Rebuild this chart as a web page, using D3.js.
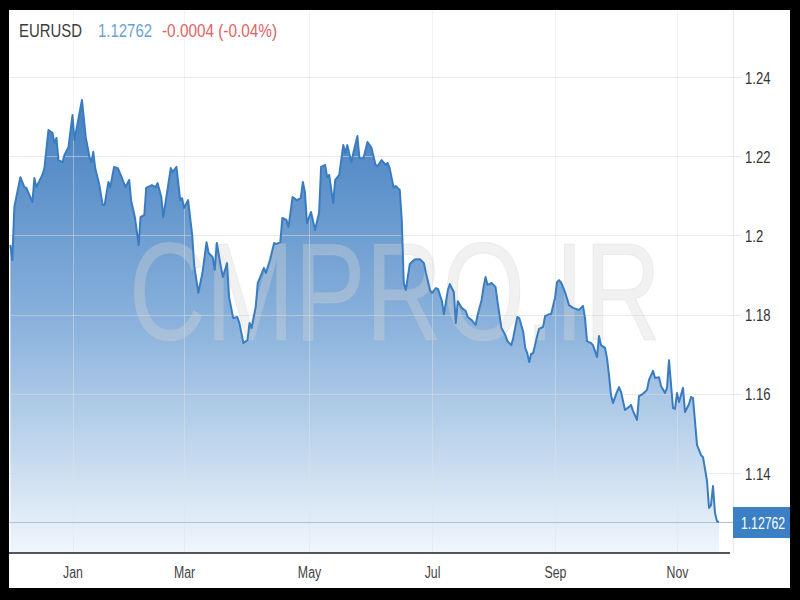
<!DOCTYPE html>
<html><head><meta charset="utf-8">
<script src="https://cdn.jsdelivr.net/npm/d3@7"></script>
<style>html,body{margin:0;padding:0;background:#000;} svg{display:block}</style>
</head><body>
<svg id="chart" width="800" height="600"></svg>
<script>
// ---------------- data ----------------
const symbol = "EURUSD";
const lastPriceLabel = "1.12762";
const lastPrice = 1.12762;
const changeLabel = "-0.0004 (-0.04%)";
const watermark = "CMPRO.IR";

const dates = [
"2020-12-01","2020-12-02","2020-12-03","2020-12-06","2020-12-08","2020-12-09","2020-12-12","2020-12-13","2020-12-14","2020-12-17",
"2020-12-18","2020-12-20","2020-12-22","2020-12-23","2020-12-24","2020-12-25","2020-12-27","2020-12-28","2020-12-30","2021-01-01",
"2021-01-02","2021-01-03","2021-01-06","2021-01-08","2021-01-10","2021-01-11","2021-01-12","2021-01-13","2021-01-15","2021-01-17",
"2021-01-18","2021-01-20","2021-01-21","2021-01-23","2021-01-25","2021-01-27","2021-01-29","2021-01-31","2021-02-01","2021-02-03",
"2021-02-05","2021-02-06","2021-02-08","2021-02-09","2021-02-12","2021-02-14","2021-02-15","2021-02-17","2021-02-18","2021-02-20",
"2021-02-22","2021-02-23","2021-02-25","2021-02-27","2021-02-28","2021-03-01","2021-03-03","2021-03-05","2021-03-06","2021-03-08",
"2021-03-10","2021-03-12","2021-03-13","2021-03-15","2021-03-16","2021-03-17","2021-03-19","2021-03-20","2021-03-22","2021-03-23",
"2021-03-25","2021-03-27","2021-03-28","2021-03-29","2021-03-30","2021-04-01","2021-04-02","2021-04-03","2021-04-05","2021-04-06",
"2021-04-08","2021-04-09","2021-04-10","2021-04-12","2021-04-14","2021-04-15","2021-04-17","2021-04-18","2021-04-20","2021-04-21",
"2021-04-23","2021-04-25","2021-04-27","2021-04-28","2021-04-29","2021-04-30","2021-05-02","2021-05-04","2021-05-06","2021-05-07",
"2021-05-09","2021-05-10","2021-05-11","2021-05-13","2021-05-14","2021-05-16","2021-05-18","2021-05-19","2021-05-20","2021-05-22",
"2021-05-23","2021-05-25","2021-05-26","2021-05-28","2021-05-30","2021-06-01","2021-06-03","2021-06-04","2021-06-06","2021-06-08",
"2021-06-09","2021-06-10","2021-06-12","2021-06-13","2021-06-15","2021-06-16","2021-06-17","2021-06-18","2021-06-20","2021-06-22",
"2021-06-23","2021-06-25","2021-06-27","2021-06-28","2021-06-30","2021-07-01","2021-07-03","2021-07-04","2021-07-06","2021-07-07",
"2021-07-09","2021-07-10","2021-07-12","2021-07-13","2021-07-14","2021-07-16","2021-07-18","2021-07-19","2021-07-21","2021-07-23",
"2021-07-24","2021-07-26","2021-07-27","2021-07-28","2021-07-29","2021-07-31","2021-08-02","2021-08-03","2021-08-05","2021-08-07",
"2021-08-08","2021-08-10","2021-08-11","2021-08-13","2021-08-14","2021-08-16","2021-08-17","2021-08-18","2021-08-19","2021-08-20",
"2021-08-21","2021-08-23","2021-08-24","2021-08-26","2021-08-27","2021-08-29","2021-08-30","2021-09-01","2021-09-02","2021-09-03",
"2021-09-04","2021-09-06","2021-09-08","2021-09-10","2021-09-13","2021-09-15","2021-09-16","2021-09-17","2021-09-19","2021-09-20",
"2021-09-22","2021-09-23","2021-09-24","2021-09-26","2021-09-27","2021-09-28","2021-09-29","2021-09-30","2021-10-02","2021-10-03",
"2021-10-04","2021-10-06","2021-10-08","2021-10-09","2021-10-10","2021-10-12","2021-10-13","2021-10-15","2021-10-17","2021-10-18",
"2021-10-20","2021-10-21","2021-10-23","2021-10-24","2021-10-26","2021-10-27","2021-10-28","2021-10-30","2021-10-31","2021-11-01",
"2021-11-02","2021-11-04","2021-11-05","2021-11-07","2021-11-08","2021-11-09","2021-11-11","2021-11-13","2021-11-14","2021-11-16",
"2021-11-17","2021-11-18","2021-11-19","2021-11-20","2021-11-21","2021-11-22"
];

const values = [
1.1976,1.1938,1.2072,1.2147,1.2122,1.2120,1.2084,1.2145,1.2122,1.2153,
1.2170,1.2266,1.2259,1.2233,1.2246,1.2190,1.2185,1.2203,1.2223,1.2304,
1.2241,1.2266,1.2342,1.2248,1.2198,1.2185,1.2211,1.2170,1.2132,1.2077,
1.2077,1.2135,1.2122,1.2173,1.2170,1.2147,1.2122,1.2140,1.2089,1.2046,
1.1976,1.2046,1.2052,1.2120,1.2127,1.2122,1.2132,1.2097,1.2046,1.2107,
1.2170,1.2160,1.2173,1.2089,1.2094,1.2069,1.2089,1.2001,1.1923,1.1855,
1.1905,1.1983,1.1956,1.1945,1.1913,1.1981,1.1920,1.1895,1.1930,1.1844,
1.1791,1.1794,1.1779,1.1754,1.1728,1.1736,1.1779,1.1766,1.1819,1.1880,
1.1905,1.1918,1.1905,1.1938,1.1981,1.1978,1.1983,1.2044,1.2039,1.2021,
1.2097,1.2089,1.2094,1.2135,1.2110,1.2031,1.2059,1.2014,1.2057,1.2173,
1.2178,1.2147,1.2153,1.2082,1.2140,1.2153,1.2228,1.2208,1.2228,1.2185,
1.2208,1.2251,1.2195,1.2195,1.2236,1.2221,1.2178,1.2175,1.2190,1.2178,
1.2183,1.2170,1.2120,1.2125,1.2115,1.2039,1.1880,1.1862,1.1928,1.1938,
1.1940,1.1940,1.1930,1.1905,1.1862,1.1855,1.1867,1.1865,1.1834,1.1801,
1.1862,1.1877,1.1857,1.1779,1.1834,1.1817,1.1809,1.1794,1.1786,1.1774,
1.1799,1.1837,1.1870,1.1895,1.1875,1.1880,1.1870,1.1834,1.1766,1.1748,
1.1733,1.1723,1.1743,1.1794,1.1791,1.1756,1.1716,1.1703,1.1680,1.1701,
1.1703,1.1746,1.1764,1.1769,1.1796,1.1801,1.1801,1.1842,1.1882,1.1887,
1.1882,1.1857,1.1824,1.1817,1.1812,1.1822,1.1791,1.1733,1.1728,1.1723,
1.1693,1.1746,1.1723,1.1716,1.1690,1.1647,1.1597,1.1577,1.1605,1.1617,
1.1605,1.1559,1.1567,1.1572,1.1557,1.1534,1.1594,1.1600,1.1610,1.1635,
1.1658,1.1640,1.1642,1.1620,1.1602,1.1615,1.1685,1.1564,1.1562,1.1602,
1.1579,1.1615,1.1554,1.1574,1.1592,1.1589,1.1471,1.1445,1.1440,1.1380,
1.1312,1.1319,1.1367,1.1299,1.1278,1.12762
];

const monthTicks = ["2021-01-01","2021-03-01","2021-05-01","2021-07-01","2021-09-01","2021-11-01"];
const monthLabels = ["Jan","Mar","May","Jul","Sep","Nov"];
const yTicks = [1.14, 1.16, 1.18, 1.2, 1.22, 1.24];
const yTickLabels = ["1.14","1.16","1.18","1.2","1.22","1.24"];

// ---------------- layout ----------------
const W = 800, H = 600;
const frame = {x0: 9, y0: 10, x1: 790, y1: 588};
const plot = {left: 9, right: 733, top: 10, bottom: 553};
const FONT = "'Liberation Sans', Arial, Helvetica, sans-serif";

const parse = d3.timeParse("%Y-%m-%d");
const data = dates.map((d, i) => ({date: parse(d), value: values[i]}));
const tickDates = monthTicks.map(parse);

// time axis compresses like a trading-day axis: piecewise time scale anchored on month ticks
const startDate = new Date(2020, 10, 30, 8);
const endDate = new Date(2021, 10, 29);
const x = d3.scaleTime()
  .domain([startDate, ...tickDates, endDate])
  .range([plot.left, 72.5, 184, 309, 432, 555, 677, plot.right]);
const y = d3.scaleLinear().domain([1.14, 1.24]).range([473, 77]);

const svg = d3.select("#chart");

// black surround + white chart card
svg.append("rect").attr("width", W).attr("height", H).attr("fill", "#000");
svg.append("rect").attr("x", frame.x0).attr("y", frame.y0)
  .attr("width", frame.x1 - frame.x0).attr("height", frame.y1 - frame.y0).attr("fill", "#fff");

// gradient
const defs = svg.append("defs");
const grad = defs.append("linearGradient").attr("id", "areaGrad")
  .attr("gradientUnits", "userSpaceOnUse").attr("x1", 0).attr("y1", 95).attr("x2", 0).attr("y2", plot.bottom);
grad.append("stop").attr("offset", 0).attr("stop-color", "rgb(66,126,192)");
grad.append("stop").attr("offset", 0.5).attr("stop-color", "rgb(138,178,220)");
grad.append("stop").attr("offset", 1).attr("stop-color", "rgb(240,246,252)");

// area
const area = d3.area().x(d => x(d.date)).y0(plot.bottom).y1(d => y(d.value));
svg.append("path").datum(data).attr("d", area).attr("fill", "url(#areaGrad)");

// grid (over area, semi-transparent)
const grid = svg.append("g");
grid.selectAll("line.h").data(yTicks).join("line").attr("class", "h")
  .attr("x1", plot.left).attr("x2", 741)
  .attr("y1", d => Math.round(y(d)) + 0.5).attr("y2", d => Math.round(y(d)) + 0.5)
  .attr("stroke", "#d8d8d8").attr("stroke-opacity", 0.55).attr("stroke-width", 1);
grid.selectAll("line.v").data(tickDates).join("line").attr("class", "v")
  .attr("x1", d => Math.round(x(d)) + 0.5).attr("x2", d => Math.round(x(d)) + 0.5)
  .attr("y1", plot.top).attr("y2", plot.bottom)
  .attr("stroke", "#e2e2e2").attr("stroke-opacity", 0.45).attr("stroke-width", 1);
grid.append("line").attr("x1", plot.right + 0.5).attr("x2", plot.right + 0.5)
  .attr("y1", plot.top).attr("y2", plot.bottom)
  .attr("stroke", "#e6e6e6").attr("stroke-width", 1);

// watermark (horizontally condensed via transform)
svg.append("text").text(watermark)
  .attr("transform", "translate(395,340) scale(0.76,1)")
  .attr("x", 0).attr("y", 0).attr("text-anchor", "middle")
  .attr("font-family", FONT).attr("font-size", 140)
  .attr("fill", "rgb(215,215,215)").attr("fill-opacity", 0.35)
  .attr("stroke", "rgb(200,200,200)").attr("stroke-opacity", 0.25).attr("stroke-width", 1);

// current price line
svg.append("line").attr("x1", plot.left).attr("x2", plot.right)
  .attr("y1", Math.round(y(lastPrice)) + 0.5).attr("y2", Math.round(y(lastPrice)) + 0.5)
  .attr("stroke", "#a9c3dd").attr("stroke-width", 1);

// price line
const line = d3.line().x(d => x(d.date)).y(d => y(d.value));
svg.append("path").datum(data).attr("d", line)
  .attr("fill", "none").attr("stroke", "#3a7cc0").attr("stroke-width", 2)
  .attr("stroke-linejoin", "round");

// x-axis baseline
svg.append("line").attr("x1", plot.left).attr("x2", 730)
  .attr("y1", plot.bottom).attr("y2", plot.bottom)
  .attr("stroke", "#555").attr("stroke-width", 2);

function squeeze(sel, k) {
  sel.each(function () {
    const w = this.getComputedTextLength();
    this.setAttribute("textLength", (w * k).toFixed(1));
    this.setAttribute("lengthAdjust", "spacingAndGlyphs");
  });
}

// x labels
const xAxis = d3.axisBottom(x).tickValues(tickDates)
  .tickFormat((d, i) => monthLabels[i]).tickSize(0).tickPadding(0);
const gx = svg.append("g").attr("transform", `translate(0,${plot.bottom})`).call(xAxis);
gx.select(".domain").remove();
gx.selectAll("text").attr("dy", null).attr("y", 25)
  .attr("font-family", FONT).attr("font-size", 16).attr("fill", "#444");
squeeze(gx.selectAll("text"), 0.77);

// y labels
const yAxis = d3.axisRight(y).tickValues(yTicks)
  .tickFormat((d, i) => yTickLabels[i]).tickSize(0).tickPadding(0);
const gy = svg.append("g").attr("transform", `translate(745,0)`).call(yAxis);
gy.select(".domain").remove();
gy.selectAll("text").attr("x", 0).attr("dy", "0.36em")
  .attr("font-family", FONT).attr("font-size", 17).attr("fill", "#333");
squeeze(gy.selectAll("text"), 0.77);

// last price box
svg.append("rect").attr("x", plot.right).attr("y", 507).attr("width", frame.x1 - plot.right).attr("height", 31)
  .attr("fill", "#3b80c4");
svg.append("text").text(lastPriceLabel)
  .attr("transform", "translate(763,529) scale(0.72,1)")
  .attr("x", 0).attr("y", 0).attr("text-anchor", "middle")
  .attr("font-family", FONT).attr("font-size", 17).attr("fill", "#fff");

// header
const header = svg.append("g").attr("font-family", FONT).attr("font-size", 19);
header.append("text").text(symbol).attr("x", 19).attr("y", 37).attr("fill", "#3c3c3c")
  .attr("textLength", 63).attr("lengthAdjust", "spacingAndGlyphs");
header.append("text").text(lastPriceLabel).attr("x", 98).attr("y", 37).attr("fill", "#6b9fd3")
  .attr("textLength", 54).attr("lengthAdjust", "spacingAndGlyphs");
header.append("text").text(changeLabel).attr("x", 162).attr("y", 37).attr("fill", "#e06262")
  .attr("textLength", 115).attr("lengthAdjust", "spacingAndGlyphs");
</script>
</body></html>
